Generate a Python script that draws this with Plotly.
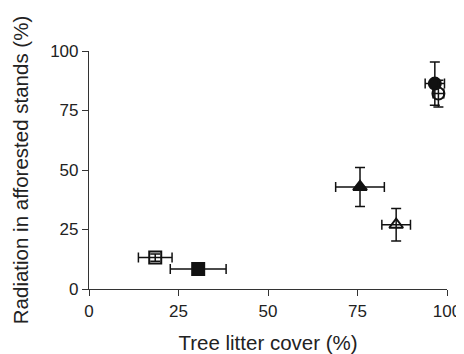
import plotly.graph_objects as go

cover = [18.5, 30.5, 75.7, 85.8, 96.6, 97.6]
cover_err = [4.7, 7.8, 6.8, 4.0, 2.7, 1.5]
radiation = [13.2, 8.4, 42.9, 27.0, 86.3, 82.1]
radiation_err = [1.5, 1.0, 8.2, 6.8, 9.1, 5.6]
symbols = ["square-open", "square", "triangle-up", "triangle-up-open", "circle", "circle-open"]
tick_vals = [0, 25, 50, 75, 100]

ink = "#111111"
fig = go.Figure()
for i in range(len(cover)):
    fig.add_trace(go.Scatter(
        x=[cover[i]], y=[radiation[i]], mode="markers",
        marker=dict(symbol=symbols[i], size=12, color=ink,
                    line=dict(color=ink, width=2)),
        error_x=dict(type="data", array=[cover_err[i]], color=ink, thickness=1.5, width=5),
        error_y=dict(type="data", array=[radiation_err[i]], color=ink, thickness=1.5, width=5),
        showlegend=False, cliponaxis=False,
    ))

axis_common = dict(range=[0, 100], tickvals=tick_vals, ticks="outside", ticklen=6,
                   tickcolor="#333", showline=True, linecolor="#333", linewidth=1.2,
                   showgrid=False, zeroline=False, automargin=False,
                   tickfont=dict(size=17, color="#222"))
fig.update_xaxes(title=dict(text="Tree litter cover (%)", font=dict(size=20.5, color="#222"), standoff=20),
                 **axis_common)
fig.update_yaxes(title=dict(text="Radiation in afforested stands (%)", font=dict(size=20.5, color="#222"), standoff=15),
                 **axis_common)
# page body has an 8px default margin, so the figure is sized to fit the window
fig.update_layout(width=456, height=346, plot_bgcolor="white", paper_bgcolor="white",
                  margin=dict(l=81, r=17, t=43, b=65),
                  font=dict(family="Liberation Sans, Arial, sans-serif", color="#222"))
fig.write_html("out.html")
